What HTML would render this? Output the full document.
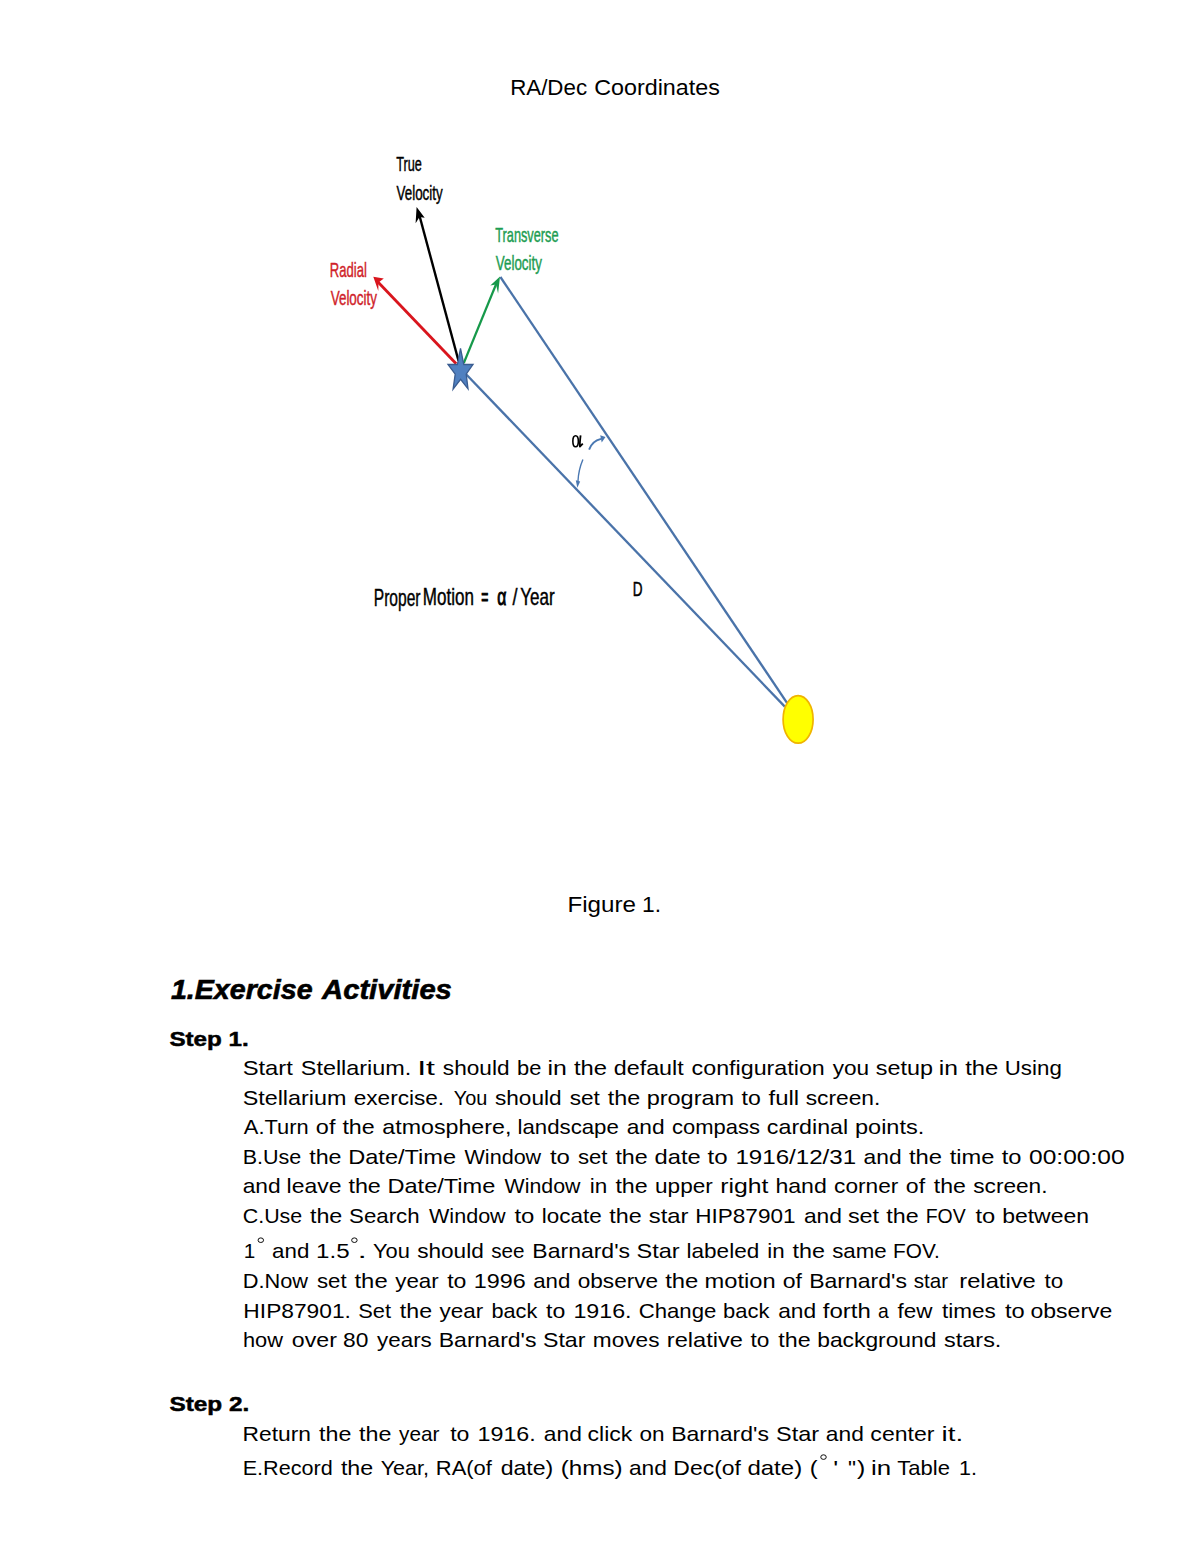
<!DOCTYPE html>
<html><head><meta charset="utf-8"><title>RA/Dec Coordinates</title>
<style>
html,body{margin:0;padding:0;background:#fff;}
body{width:1192px;height:1550px;overflow:hidden;position:relative;}
svg{position:absolute;left:0;top:0;}
text{font-family:"Liberation Sans",sans-serif;fill:#000;white-space:pre;}
</style></head><body>
<svg width="1192" height="1550" viewBox="0 0 1192 1550">
<g fill="none" stroke-linecap="butt">
<line x1="458.5" y1="360.8" x2="418.5" y2="212" stroke="#000" stroke-width="2.4"/>
<line x1="456.2" y1="363.8" x2="377" y2="281" stroke="#d9151d" stroke-width="2.8"/>
<line x1="463.8" y1="363" x2="497" y2="282" stroke="#16994a" stroke-width="2.2"/>
<line x1="500.4" y1="277" x2="787" y2="702.8" stroke="#4a73a9" stroke-width="2.3"/>
<line x1="463" y1="371" x2="784.8" y2="706.6" stroke="#4a73a9" stroke-width="2.3"/>
</g>
<path d="M416.6,207.1 L415.6,223.2 L419.5,217 L424.7,217.7 Z" fill="#000"/>
<path d="M373.3,276.8 L383.8,278.5 L378.5,282.5 L378.3,291.1 Z" fill="#d9151d"/>
<path d="M500,276.4 L490.3,285.6 L496,284.5 L498.1,293.4 Z" fill="#16994a"/>
<path d="M460.5,348.3 L463.8,364.5 L473,364.5 L466.2,374.1 L468,388.8 L460.6,379.4 L453.1,389.2 L455.2,374.1 L448,364.5 L457.4,364.5 Z" fill="#5080c0" stroke="#3a5c90" stroke-width="1.3" stroke-linejoin="miter"/>
<ellipse cx="798.1" cy="719.4" rx="15" ry="23.8" fill="#ffff00" stroke="#f0b400" stroke-width="1.7"/>
<path d="M589.1,449.6 Q592,441 601,438.8" fill="none" stroke="#4a78b2" stroke-width="1.9"/>
<path d="M605.5,437 L600.2,435.3 L601.7,442.6 Z" fill="#4a78b2"/>
<path d="M582.9,459.6 Q578.5,470 578,481" fill="none" stroke="#4a78b2" stroke-width="1.4"/>
<path d="M577.3,487.8 L575.8,480.2 L580.2,481.4 Z" fill="#4a78b2"/>
<ellipse cx="260.8" cy="1240.2" rx="2.75" ry="2.3" fill="none" stroke="#000" stroke-width="0.95"/>
<ellipse cx="354.4" cy="1240.2" rx="2.75" ry="2.3" fill="none" stroke="#000" stroke-width="0.95"/>
<ellipse cx="823.5" cy="1457.1" rx="2.75" ry="2.3" fill="none" stroke="#000" stroke-width="0.95"/>
<ellipse cx="575.6" cy="441.2" rx="2.75" ry="5.5" fill="none" stroke="#000" stroke-width="1.6"/>
<path d="M580.6,435.4 C580.1,439.5 579.6,443.5 579.9,446.6 L582.8,443.6" fill="none" stroke="#000" stroke-width="1.8" stroke-linejoin="round"/>

<text x="510.19" y="94.7" font-size="22.8" textLength="76.85" lengthAdjust="spacingAndGlyphs">RA/Dec</text>
<text x="594.22" y="94.7" font-size="22.8" textLength="125.64" lengthAdjust="spacingAndGlyphs">Coordinates</text>
<text x="567.49" y="911.7" font-size="22.9" textLength="68.52" lengthAdjust="spacingAndGlyphs">Figure</text>
<text x="642.06" y="911.7" font-size="22.9" textLength="19.03" lengthAdjust="spacingAndGlyphs">1.</text>
<text x="170.90" y="998.9" font-size="27.3" font-weight="bold" font-style="italic" style="stroke:#000;stroke-width:0.6" textLength="141.72" lengthAdjust="spacingAndGlyphs">1.Exercise</text>
<text x="322.07" y="998.9" font-size="27.3" font-weight="bold" font-style="italic" style="stroke:#000;stroke-width:0.6" textLength="129.80" lengthAdjust="spacingAndGlyphs">Activities</text>
<text x="169.41" y="1046.0" font-size="21" font-weight="bold" style="stroke:#000;stroke-width:0.5" textLength="79.26" lengthAdjust="spacingAndGlyphs">Step 1.</text>
<text x="169.41" y="1411.0" font-size="21" font-weight="bold" style="stroke:#000;stroke-width:0.5" textLength="79.77" lengthAdjust="spacingAndGlyphs">Step 2.</text>
<text x="242.65" y="1074.7" font-size="20.7" textLength="50.18" lengthAdjust="spacingAndGlyphs">Start</text>
<text x="300.77" y="1074.7" font-size="20.7" textLength="110.58" lengthAdjust="spacingAndGlyphs">Stellarium.</text>
<text x="417.21" y="1074.7" font-size="20.7" textLength="17.78" lengthAdjust="spacingAndGlyphs">It</text>
<text x="442.88" y="1074.7" font-size="20.7" textLength="66.62" lengthAdjust="spacingAndGlyphs">should</text>
<text x="517.08" y="1074.7" font-size="20.7" textLength="24.29" lengthAdjust="spacingAndGlyphs">be</text>
<text x="547.60" y="1074.7" font-size="20.7" textLength="19.33" lengthAdjust="spacingAndGlyphs">in</text>
<text x="574.01" y="1074.7" font-size="20.7" textLength="33.05" lengthAdjust="spacingAndGlyphs">the</text>
<text x="613.77" y="1074.7" font-size="20.7" textLength="69.97" lengthAdjust="spacingAndGlyphs">default</text>
<text x="691.58" y="1074.7" font-size="20.7" textLength="133.18" lengthAdjust="spacingAndGlyphs">configuration</text>
<text x="832.73" y="1074.7" font-size="20.7" textLength="36.46" lengthAdjust="spacingAndGlyphs">you</text>
<text x="875.86" y="1074.7" font-size="20.7" textLength="57.01" lengthAdjust="spacingAndGlyphs">setup</text>
<text x="938.71" y="1074.7" font-size="20.7" textLength="19.21" lengthAdjust="spacingAndGlyphs">in</text>
<text x="965.21" y="1074.7" font-size="20.7" textLength="33.16" lengthAdjust="spacingAndGlyphs">the</text>
<text x="1004.78" y="1074.7" font-size="20.7" textLength="57.02" lengthAdjust="spacingAndGlyphs">Using</text>
<text x="242.67" y="1104.7" font-size="20.7" textLength="103.72" lengthAdjust="spacingAndGlyphs">Stellarium</text>
<text x="353.71" y="1104.7" font-size="20.7" textLength="90.44" lengthAdjust="spacingAndGlyphs">exercise.</text>
<text x="453.82" y="1104.7" font-size="20.7" textLength="33.55" lengthAdjust="spacingAndGlyphs">You</text>
<text x="494.98" y="1104.7" font-size="20.7" textLength="66.62" lengthAdjust="spacingAndGlyphs">should</text>
<text x="569.68" y="1104.7" font-size="20.7" textLength="30.24" lengthAdjust="spacingAndGlyphs">set</text>
<text x="607.82" y="1104.7" font-size="20.7" textLength="32.43" lengthAdjust="spacingAndGlyphs">the</text>
<text x="646.68" y="1104.7" font-size="20.7" textLength="87.49" lengthAdjust="spacingAndGlyphs">program</text>
<text x="741.52" y="1104.7" font-size="20.7" textLength="19.23" lengthAdjust="spacingAndGlyphs">to</text>
<text x="768.51" y="1104.7" font-size="20.7" textLength="30.67" lengthAdjust="spacingAndGlyphs">full</text>
<text x="805.67" y="1104.7" font-size="20.7" textLength="74.65" lengthAdjust="spacingAndGlyphs">screen.</text>
<text x="243.80" y="1134.0" font-size="20.7" textLength="64.80" lengthAdjust="spacingAndGlyphs">A.Turn</text>
<text x="315.87" y="1134.0" font-size="20.7" textLength="19.55" lengthAdjust="spacingAndGlyphs">of</text>
<text x="342.42" y="1134.0" font-size="20.7" textLength="32.32" lengthAdjust="spacingAndGlyphs">the</text>
<text x="382.38" y="1134.0" font-size="20.7" textLength="128.98" lengthAdjust="spacingAndGlyphs">atmosphere,</text>
<text x="517.59" y="1134.0" font-size="20.7" textLength="101.20" lengthAdjust="spacingAndGlyphs">landscape</text>
<text x="626.70" y="1134.0" font-size="20.7" textLength="37.90" lengthAdjust="spacingAndGlyphs">and</text>
<text x="672.04" y="1134.0" font-size="20.7" textLength="87.89" lengthAdjust="spacingAndGlyphs">compass</text>
<text x="766.88" y="1134.0" font-size="20.7" textLength="81.25" lengthAdjust="spacingAndGlyphs">cardinal</text>
<text x="854.98" y="1134.0" font-size="20.7" textLength="69.34" lengthAdjust="spacingAndGlyphs">points.</text>
<text x="242.68" y="1163.7" font-size="20.7" textLength="58.60" lengthAdjust="spacingAndGlyphs">B.Use</text>
<text x="309.22" y="1163.7" font-size="20.7" textLength="32.32" lengthAdjust="spacingAndGlyphs">the</text>
<text x="348.21" y="1163.7" font-size="20.7" textLength="107.83" lengthAdjust="spacingAndGlyphs">Date/Time</text>
<text x="464.54" y="1163.7" font-size="20.7" textLength="76.64" lengthAdjust="spacingAndGlyphs">Window</text>
<text x="549.91" y="1163.7" font-size="20.7" textLength="19.97" lengthAdjust="spacingAndGlyphs">to</text>
<text x="578.00" y="1163.7" font-size="20.7" textLength="29.52" lengthAdjust="spacingAndGlyphs">set</text>
<text x="615.42" y="1163.7" font-size="20.7" textLength="32.32" lengthAdjust="spacingAndGlyphs">the</text>
<text x="654.55" y="1163.7" font-size="20.7" textLength="46.11" lengthAdjust="spacingAndGlyphs">date</text>
<text x="707.51" y="1163.7" font-size="20.7" textLength="20.08" lengthAdjust="spacingAndGlyphs">to</text>
<text x="735.45" y="1163.7" font-size="20.7" textLength="120.67" lengthAdjust="spacingAndGlyphs">1916/12/31</text>
<text x="863.60" y="1163.7" font-size="20.7" textLength="38.01" lengthAdjust="spacingAndGlyphs">and</text>
<text x="908.91" y="1163.7" font-size="20.7" textLength="33.16" lengthAdjust="spacingAndGlyphs">the</text>
<text x="949.81" y="1163.7" font-size="20.7" textLength="44.65" lengthAdjust="spacingAndGlyphs">time</text>
<text x="1001.81" y="1163.7" font-size="20.7" textLength="19.76" lengthAdjust="spacingAndGlyphs">to</text>
<text x="1029.11" y="1163.7" font-size="20.7" textLength="95.41" lengthAdjust="spacingAndGlyphs">00:00:00</text>
<text x="242.70" y="1192.8" font-size="20.7" textLength="38.01" lengthAdjust="spacingAndGlyphs">and</text>
<text x="286.64" y="1192.8" font-size="20.7" textLength="54.84" lengthAdjust="spacingAndGlyphs">leave</text>
<text x="348.42" y="1192.8" font-size="20.7" textLength="32.43" lengthAdjust="spacingAndGlyphs">the</text>
<text x="387.51" y="1192.8" font-size="20.7" textLength="107.83" lengthAdjust="spacingAndGlyphs">Date/Time</text>
<text x="504.64" y="1192.8" font-size="20.7" textLength="75.84" lengthAdjust="spacingAndGlyphs">Window</text>
<text x="589.87" y="1192.8" font-size="20.7" textLength="17.51" lengthAdjust="spacingAndGlyphs">in</text>
<text x="615.42" y="1192.8" font-size="20.7" textLength="32.32" lengthAdjust="spacingAndGlyphs">the</text>
<text x="655.04" y="1192.8" font-size="20.7" textLength="57.72" lengthAdjust="spacingAndGlyphs">upper</text>
<text x="720.30" y="1192.8" font-size="20.7" textLength="48.20" lengthAdjust="spacingAndGlyphs">right</text>
<text x="775.42" y="1192.8" font-size="20.7" textLength="51.41" lengthAdjust="spacingAndGlyphs">hand</text>
<text x="834.10" y="1192.8" font-size="20.7" textLength="64.22" lengthAdjust="spacingAndGlyphs">corner</text>
<text x="905.89" y="1192.8" font-size="20.7" textLength="19.23" lengthAdjust="spacingAndGlyphs">of</text>
<text x="933.82" y="1192.8" font-size="20.7" textLength="32.11" lengthAdjust="spacingAndGlyphs">the</text>
<text x="973.28" y="1192.8" font-size="20.7" textLength="74.24" lengthAdjust="spacingAndGlyphs">screen.</text>
<text x="242.77" y="1222.5" font-size="20.7" textLength="59.45" lengthAdjust="spacingAndGlyphs">C.Use</text>
<text x="309.92" y="1222.5" font-size="20.7" textLength="32.43" lengthAdjust="spacingAndGlyphs">the</text>
<text x="349.12" y="1222.5" font-size="20.7" textLength="70.49" lengthAdjust="spacingAndGlyphs">Search</text>
<text x="429.04" y="1222.5" font-size="20.7" textLength="76.64" lengthAdjust="spacingAndGlyphs">Window</text>
<text x="514.41" y="1222.5" font-size="20.7" textLength="19.97" lengthAdjust="spacingAndGlyphs">to</text>
<text x="541.77" y="1222.5" font-size="20.7" textLength="59.88" lengthAdjust="spacingAndGlyphs">locate</text>
<text x="609.32" y="1222.5" font-size="20.7" textLength="32.43" lengthAdjust="spacingAndGlyphs">the</text>
<text x="648.74" y="1222.5" font-size="20.7" textLength="39.75" lengthAdjust="spacingAndGlyphs">star</text>
<text x="695.29" y="1222.5" font-size="20.7" textLength="100.21" lengthAdjust="spacingAndGlyphs">HIP87901</text>
<text x="803.90" y="1222.5" font-size="20.7" textLength="38.01" lengthAdjust="spacingAndGlyphs">and</text>
<text x="847.95" y="1222.5" font-size="20.7" textLength="31.17" lengthAdjust="spacingAndGlyphs">set</text>
<text x="886.32" y="1222.5" font-size="20.7" textLength="32.32" lengthAdjust="spacingAndGlyphs">the</text>
<text x="925.66" y="1222.5" font-size="20.7" textLength="39.97" lengthAdjust="spacingAndGlyphs">FOV</text>
<text x="975.41" y="1222.5" font-size="20.7" textLength="19.76" lengthAdjust="spacingAndGlyphs">to</text>
<text x="1002.21" y="1222.5" font-size="20.7" textLength="86.82" lengthAdjust="spacingAndGlyphs">between</text>
<text x="243.80" y="1257.8" font-size="20.7" textLength="11.52" lengthAdjust="spacingAndGlyphs">1</text>
<text x="272.12" y="1257.8" font-size="20.7" textLength="37.26" lengthAdjust="spacingAndGlyphs">and</text>
<text x="316.05" y="1257.8" font-size="20.7" textLength="33.54" lengthAdjust="spacingAndGlyphs">1.5</text>
<text x="357.53" y="1257.8" font-size="20.7" textLength="9.39" lengthAdjust="spacingAndGlyphs">.</text>
<text x="373.07" y="1257.8" font-size="20.7" textLength="36.83" lengthAdjust="spacingAndGlyphs">You</text>
<text x="417.18" y="1257.8" font-size="20.7" textLength="66.62" lengthAdjust="spacingAndGlyphs">should</text>
<text x="491.25" y="1257.8" font-size="20.7" textLength="33.31" lengthAdjust="spacingAndGlyphs">see</text>
<text x="532.36" y="1257.8" font-size="20.7" textLength="97.67" lengthAdjust="spacingAndGlyphs">Barnard's</text>
<text x="636.46" y="1257.8" font-size="20.7" textLength="43.15" lengthAdjust="spacingAndGlyphs">Star</text>
<text x="686.57" y="1257.8" font-size="20.7" textLength="72.65" lengthAdjust="spacingAndGlyphs">labeled</text>
<text x="767.18" y="1257.8" font-size="20.7" textLength="17.39" lengthAdjust="spacingAndGlyphs">in</text>
<text x="792.62" y="1257.8" font-size="20.7" textLength="32.43" lengthAdjust="spacingAndGlyphs">the</text>
<text x="832.19" y="1257.8" font-size="20.7" textLength="54.52" lengthAdjust="spacingAndGlyphs">same</text>
<text x="893.14" y="1257.8" font-size="20.7" textLength="46.65" lengthAdjust="spacingAndGlyphs">FOV.</text>
<text x="242.66" y="1287.7" font-size="20.7" textLength="65.43" lengthAdjust="spacingAndGlyphs">D.Now</text>
<text x="317.00" y="1287.7" font-size="20.7" textLength="29.62" lengthAdjust="spacingAndGlyphs">set</text>
<text x="354.51" y="1287.7" font-size="20.7" textLength="33.16" lengthAdjust="spacingAndGlyphs">the</text>
<text x="395.23" y="1287.7" font-size="20.7" textLength="43.44" lengthAdjust="spacingAndGlyphs">year</text>
<text x="447.22" y="1287.7" font-size="20.7" textLength="19.23" lengthAdjust="spacingAndGlyphs">to</text>
<text x="473.71" y="1287.7" font-size="20.7" textLength="51.96" lengthAdjust="spacingAndGlyphs">1996</text>
<text x="533.22" y="1287.7" font-size="20.7" textLength="37.15" lengthAdjust="spacingAndGlyphs">and</text>
<text x="577.71" y="1287.7" font-size="20.7" textLength="80.43" lengthAdjust="spacingAndGlyphs">observe</text>
<text x="665.21" y="1287.7" font-size="20.7" textLength="33.16" lengthAdjust="spacingAndGlyphs">the</text>
<text x="704.58" y="1287.7" font-size="20.7" textLength="71.05" lengthAdjust="spacingAndGlyphs">motion</text>
<text x="782.79" y="1287.7" font-size="20.7" textLength="19.23" lengthAdjust="spacingAndGlyphs">of</text>
<text x="809.15" y="1287.7" font-size="20.7" textLength="97.78" lengthAdjust="spacingAndGlyphs">Barnard's</text>
<text x="913.75" y="1287.7" font-size="20.7" textLength="34.29" lengthAdjust="spacingAndGlyphs">star</text>
<text x="959.28" y="1287.7" font-size="20.7" textLength="76.51" lengthAdjust="spacingAndGlyphs">relative</text>
<text x="1044.53" y="1287.7" font-size="20.7" textLength="18.70" lengthAdjust="spacingAndGlyphs">to</text>
<text x="243.38" y="1317.6" font-size="20.7" textLength="107.54" lengthAdjust="spacingAndGlyphs">HIP87901.</text>
<text x="358.24" y="1317.6" font-size="20.7" textLength="32.82" lengthAdjust="spacingAndGlyphs">Set</text>
<text x="399.82" y="1317.6" font-size="20.7" textLength="32.22" lengthAdjust="spacingAndGlyphs">the</text>
<text x="439.63" y="1317.6" font-size="20.7" textLength="43.64" lengthAdjust="spacingAndGlyphs">year</text>
<text x="491.49" y="1317.6" font-size="20.7" textLength="45.76" lengthAdjust="spacingAndGlyphs">back</text>
<text x="546.12" y="1317.6" font-size="20.7" textLength="19.23" lengthAdjust="spacingAndGlyphs">to</text>
<text x="573.42" y="1317.6" font-size="20.7" textLength="58.17" lengthAdjust="spacingAndGlyphs">1916.</text>
<text x="638.73" y="1317.6" font-size="20.7" textLength="77.61" lengthAdjust="spacingAndGlyphs">Change</text>
<text x="723.07" y="1317.6" font-size="20.7" textLength="46.38" lengthAdjust="spacingAndGlyphs">back</text>
<text x="778.20" y="1317.6" font-size="20.7" textLength="38.01" lengthAdjust="spacingAndGlyphs">and</text>
<text x="822.81" y="1317.6" font-size="20.7" textLength="48.02" lengthAdjust="spacingAndGlyphs">forth</text>
<text x="878.07" y="1317.6" font-size="20.7" textLength="10.75" lengthAdjust="spacingAndGlyphs">a</text>
<text x="897.63" y="1317.6" font-size="20.7" textLength="34.92" lengthAdjust="spacingAndGlyphs">few</text>
<text x="942.03" y="1317.6" font-size="20.7" textLength="53.82" lengthAdjust="spacingAndGlyphs">times</text>
<text x="1004.91" y="1317.6" font-size="20.7" textLength="19.76" lengthAdjust="spacingAndGlyphs">to</text>
<text x="1030.49" y="1317.6" font-size="20.7" textLength="81.87" lengthAdjust="spacingAndGlyphs">observe</text>
<text x="242.92" y="1346.5" font-size="20.7" textLength="40.03" lengthAdjust="spacingAndGlyphs">how</text>
<text x="291.78" y="1346.5" font-size="20.7" textLength="45.10" lengthAdjust="spacingAndGlyphs">over</text>
<text x="343.10" y="1346.5" font-size="20.7" textLength="25.34" lengthAdjust="spacingAndGlyphs">80</text>
<text x="377.13" y="1346.5" font-size="20.7" textLength="54.68" lengthAdjust="spacingAndGlyphs">years</text>
<text x="438.75" y="1346.5" font-size="20.7" textLength="97.78" lengthAdjust="spacingAndGlyphs">Barnard's</text>
<text x="542.98" y="1346.5" font-size="20.7" textLength="42.42" lengthAdjust="spacingAndGlyphs">Star</text>
<text x="592.86" y="1346.5" font-size="20.7" textLength="66.59" lengthAdjust="spacingAndGlyphs">moves</text>
<text x="666.79" y="1346.5" font-size="20.7" textLength="76.10" lengthAdjust="spacingAndGlyphs">relative</text>
<text x="750.53" y="1346.5" font-size="20.7" textLength="18.91" lengthAdjust="spacingAndGlyphs">to</text>
<text x="778.32" y="1346.5" font-size="20.7" textLength="32.32" lengthAdjust="spacingAndGlyphs">the</text>
<text x="817.22" y="1346.5" font-size="20.7" textLength="119.19" lengthAdjust="spacingAndGlyphs">background</text>
<text x="944.05" y="1346.5" font-size="20.7" textLength="57.32" lengthAdjust="spacingAndGlyphs">stars.</text>
<text x="242.57" y="1440.8" font-size="20.7" textLength="68.41" lengthAdjust="spacingAndGlyphs">Return</text>
<text x="319.02" y="1440.8" font-size="20.7" textLength="32.32" lengthAdjust="spacingAndGlyphs">the</text>
<text x="359.02" y="1440.8" font-size="20.7" textLength="32.43" lengthAdjust="spacingAndGlyphs">the</text>
<text x="399.05" y="1440.8" font-size="20.7" textLength="40.40" lengthAdjust="spacingAndGlyphs">year</text>
<text x="450.22" y="1440.8" font-size="20.7" textLength="19.23" lengthAdjust="spacingAndGlyphs">to</text>
<text x="477.51" y="1440.8" font-size="20.7" textLength="58.27" lengthAdjust="spacingAndGlyphs">1916.</text>
<text x="543.80" y="1440.8" font-size="20.7" textLength="38.01" lengthAdjust="spacingAndGlyphs">and</text>
<text x="587.59" y="1440.8" font-size="20.7" textLength="44.69" lengthAdjust="spacingAndGlyphs">click</text>
<text x="639.51" y="1440.8" font-size="20.7" textLength="25.07" lengthAdjust="spacingAndGlyphs">on</text>
<text x="671.15" y="1440.8" font-size="20.7" textLength="97.78" lengthAdjust="spacingAndGlyphs">Barnard's</text>
<text x="775.96" y="1440.8" font-size="20.7" textLength="43.15" lengthAdjust="spacingAndGlyphs">Star</text>
<text x="825.80" y="1440.8" font-size="20.7" textLength="38.01" lengthAdjust="spacingAndGlyphs">and</text>
<text x="870.39" y="1440.8" font-size="20.7" textLength="63.99" lengthAdjust="spacingAndGlyphs">center</text>
<text x="941.59" y="1440.8" font-size="20.7" textLength="21.58" lengthAdjust="spacingAndGlyphs">it.</text>
<text x="242.67" y="1474.6" font-size="20.7" textLength="90.03" lengthAdjust="spacingAndGlyphs">E.Record</text>
<text x="340.92" y="1474.6" font-size="20.7" textLength="32.32" lengthAdjust="spacingAndGlyphs">the</text>
<text x="380.68" y="1474.6" font-size="20.7" textLength="48.41" lengthAdjust="spacingAndGlyphs">Year,</text>
<text x="435.85" y="1474.6" font-size="20.7" textLength="56.04" lengthAdjust="spacingAndGlyphs">RA(of</text>
<text x="500.68" y="1474.6" font-size="20.7" textLength="52.58" lengthAdjust="spacingAndGlyphs">date)</text>
<text x="560.74" y="1474.6" font-size="20.7" textLength="61.87" lengthAdjust="spacingAndGlyphs">(hms)</text>
<text x="628.90" y="1474.6" font-size="20.7" textLength="38.01" lengthAdjust="spacingAndGlyphs">and</text>
<text x="673.36" y="1474.6" font-size="20.7" textLength="67.57" lengthAdjust="spacingAndGlyphs">Dec(of</text>
<text x="747.44" y="1474.6" font-size="20.7" textLength="54.69" lengthAdjust="spacingAndGlyphs">date)</text>
<text x="809.67" y="1474.6" font-size="20.7" textLength="7.89" lengthAdjust="spacingAndGlyphs">(</text>
<text x="833.25" y="1474.6" font-size="20.7" textLength="4.94" lengthAdjust="spacingAndGlyphs">'</text>
<text x="847.91" y="1474.6" font-size="20.7" textLength="8.01" lengthAdjust="spacingAndGlyphs">&quot;</text>
<text x="857.10" y="1474.6" font-size="20.7" textLength="8.27" lengthAdjust="spacingAndGlyphs">)</text>
<text x="871.12" y="1474.6" font-size="20.7" textLength="20.18" lengthAdjust="spacingAndGlyphs">in</text>
<text x="897.37" y="1474.6" font-size="20.7" textLength="52.56" lengthAdjust="spacingAndGlyphs">Table</text>
<text x="959.04" y="1474.6" font-size="20.7" textLength="17.96" lengthAdjust="spacingAndGlyphs">1.</text>
<text x="396.25" y="171.4" font-size="20.6" style="stroke:#000;stroke-width:0.45" textLength="25.62" lengthAdjust="spacingAndGlyphs">True</text>
<text x="396.56" y="200.0" font-size="20.6" style="stroke:#000;stroke-width:0.45" textLength="46.16" lengthAdjust="spacingAndGlyphs">Velocity</text>
<text x="495.24" y="241.8" font-size="20.2" style="fill:#1d9d52;stroke:#1d9d52;stroke-width:0.45" textLength="63.31" lengthAdjust="spacingAndGlyphs">Transverse</text>
<text x="495.80" y="270.4" font-size="20.2" style="fill:#1d9d52;stroke:#1d9d52;stroke-width:0.45" textLength="46.09" lengthAdjust="spacingAndGlyphs">Velocity</text>
<text x="329.75" y="276.8" font-size="20.6" style="fill:#d01f2a;stroke:#d01f2a;stroke-width:0.45" textLength="37.08" lengthAdjust="spacingAndGlyphs">Radial</text>
<text x="330.70" y="305.4" font-size="20.6" style="fill:#d01f2a;stroke:#d01f2a;stroke-width:0.45" textLength="46.29" lengthAdjust="spacingAndGlyphs">Velocity</text>
<text x="632.68" y="595.5" font-size="20.0" style="stroke:#000;stroke-width:0.5" textLength="9.79" lengthAdjust="spacingAndGlyphs">D</text>
<text x="373.75" y="605.5" font-size="23.8" style="stroke:#000;stroke-width:0.45" textLength="46.77" lengthAdjust="spacingAndGlyphs">Proper</text>
<text x="422.85" y="605.4" font-size="23.8" style="stroke:#000;stroke-width:0.45" textLength="51.08" lengthAdjust="spacingAndGlyphs">Motion</text>
<text x="481.32" y="605.4" font-size="23.8" style="stroke:#000;stroke-width:0.9" textLength="7.12" lengthAdjust="spacingAndGlyphs">=</text>
<text x="497.17" y="605.4" font-size="23.8" style="stroke:#000;stroke-width:1.0" textLength="9.14" lengthAdjust="spacingAndGlyphs">α</text>
<text x="512.39" y="605.4" font-size="23.8" style="stroke:#000;stroke-width:0.45" textLength="5.02" lengthAdjust="spacingAndGlyphs">/</text>
<text x="520.22" y="605.4" font-size="23.8" style="stroke:#000;stroke-width:0.45" textLength="34.35" lengthAdjust="spacingAndGlyphs">Year</text>
</svg>
</body></html>
